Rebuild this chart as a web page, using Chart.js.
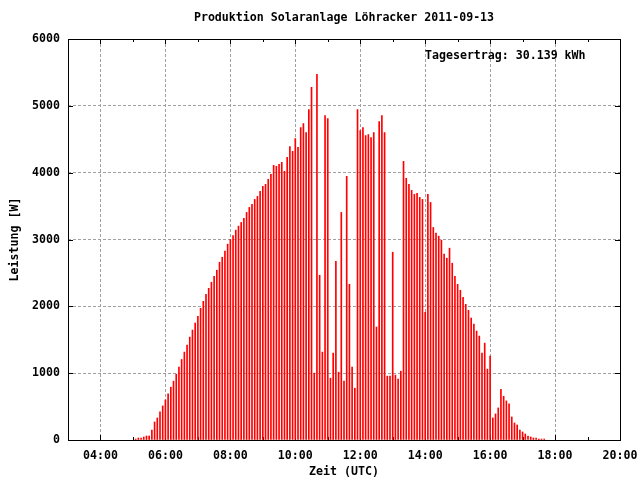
<!DOCTYPE html>
<html><head><meta charset="utf-8">
<script src="https://cdn.jsdelivr.net/npm/chart.js@4/dist/chart.umd.min.js"></script>
<style>html,body{margin:0;padding:0;background:#fff}#c{display:block}</style>
</head><body>
<canvas id="c" width="640" height="480"></canvas>
<script>
const chartTitle = 'Produktion Solaranlage Löhracker 2011-09-13';
const xAxisTitle = 'Zeit (UTC)';
const yAxisTitle = 'Leistung [W]';
const annotationText = 'Tagesertrag: 30.139 kWh';

const times = [
 '05:05','05:10','05:15','05:20','05:25','05:30','05:35','05:40','05:45','05:50','05:55',
 '06:00','06:05','06:10','06:15','06:20','06:25','06:30','06:35','06:40','06:45','06:50','06:55',
 '07:00','07:05','07:10','07:15','07:20','07:25','07:30','07:35','07:40','07:45','07:50','07:55',
 '08:00','08:05','08:10','08:15','08:20','08:25','08:30','08:35','08:40','08:45','08:50','08:55',
 '09:00','09:05','09:10','09:15','09:20','09:25','09:30','09:35','09:40','09:45','09:50','09:55',
 '10:00','10:05','10:10','10:15','10:20','10:25','10:30','10:35','10:40','10:45','10:50','10:55',
 '11:00','11:05','11:10','11:15','11:20','11:25','11:30','11:35','11:40','11:45','11:50','11:55',
 '12:00','12:05','12:10','12:15','12:20','12:25','12:30','12:35','12:40','12:45','12:50','12:55',
 '13:00','13:05','13:10','13:15','13:20','13:25','13:30','13:35','13:40','13:45','13:50','13:55',
 '14:00','14:05','14:10','14:15','14:20','14:25','14:30','14:35','14:40','14:45','14:50','14:55',
 '15:00','15:05','15:10','15:15','15:20','15:25','15:30','15:35','15:40','15:45','15:50','15:55',
 '16:00','16:05','16:10','16:15','16:20','16:25','16:30','16:35','16:40','16:45','16:50','16:55',
 '17:00','17:05','17:10','17:15','17:20','17:25','17:30','17:35','17:40'
];

const power = [
 15,30,30,45,60,60,150,270,330,420,510,
 600,690,790,880,985,1090,1205,1315,1420,1540,1645,1750,
 1850,1970,2075,2180,2270,2360,2450,2540,2660,2735,2825,2930,
 3000,3060,3140,3200,3255,3315,3405,3480,3525,3600,3645,3720,
 3795,3825,3900,3975,4110,4095,4125,4155,4020,4230,4390,4320,
 4510,4380,4675,4735,4600,4945,5275,1000,5470,2465,1315,4855,
 4810,925,1300,2675,1015,3405,880,3945,2330,1090,775,4945,
 4630,4675,4555,4570,4525,4600,1690,4765,4855,4600,955,955,
 2810,970,910,1030,4170,3915,3825,3735,3675,3690,3630,3600,
 1910,3675,3555,3180,3095,3050,2990,2780,2720,2870,2645,2450,
 2330,2240,2135,2030,1940,1825,1735,1630,1555,1300,1450,1060,
 1255,330,390,480,760,655,585,540,345,255,225,150,
 120,90,60,45,30,30,15,15,15
];

const xTickLabels = ['04:00','06:00','08:00','10:00','12:00','14:00','16:00','18:00','20:00'];
const xMinorTickLabels = ['03:00','05:00','07:00','09:00','11:00','13:00','15:00','17:00','19:00'];
const yTickValues = [0,1000,2000,3000,4000,5000,6000];
const xRange = ['03:00','20:00'];

function toHours(s){ const p = s.split(':'); return (+p[0]) + (+p[1])/60; }

const FONT = {family:'"DejaVu Sans Mono", monospace', size:11.6, weight:'bold', lineHeight:1.2};
const FONT_CSS = 'bold 11.6px "DejaVu Sans Mono", monospace';

const framePlugin = {
  id:'frame',
  beforeDatasetsDraw(chart){
    const {ctx, chartArea:a, scales:{x, y}} = chart;
    ctx.save();
    ctx.strokeStyle = '#000'; ctx.lineWidth = 1;
    ctx.beginPath();
    xTickLabels.forEach(l => {
      const px = Math.round(x.getPixelForValue(toHours(l))) + 0.5;
      ctx.moveTo(px, a.bottom); ctx.lineTo(px, a.bottom - 5);
      ctx.moveTo(px, a.top); ctx.lineTo(px, a.top + 5);
    });
    xMinorTickLabels.forEach(l => {
      const px = Math.round(x.getPixelForValue(toHours(l))) + 0.5;
      ctx.moveTo(px, a.bottom); ctx.lineTo(px, a.bottom - 3);
      ctx.moveTo(px, a.top); ctx.lineTo(px, a.top + 3);
    });
    yTickValues.forEach(v => {
      const py = Math.round(y.getPixelForValue(v)) + 0.5;
      ctx.moveTo(a.left, py); ctx.lineTo(a.left + 5, py);
      ctx.moveTo(a.right, py); ctx.lineTo(a.right - 5, py);
    });
    ctx.stroke();
    ctx.restore();
  },
  afterDatasetsDraw(chart){
    const {ctx, chartArea:a} = chart;
    ctx.save();
    ctx.strokeStyle = '#000'; ctx.lineWidth = 1;
    ctx.strokeRect(Math.round(a.left) + 0.5, Math.round(a.top) + 0.5,
                   Math.round(a.right - a.left), Math.round(a.bottom - a.top));
    ctx.fillStyle = '#000';
    ctx.font = FONT_CSS;
    ctx.textBaseline = 'middle';
    ctx.textAlign = 'center';
    ctx.fillText(chartTitle, (a.left + a.right) / 2, 18);
    ctx.textAlign = 'left';
    ctx.fillText(annotationText, 425, 56);
    ctx.restore();
  }
};

new Chart(document.getElementById('c'), {
  type:'bar',
  data:{
    datasets:[{
      data: times.map((t, i) => ({x: toHours(t), y: power[i]})),
      backgroundColor:'#ff0000',
      borderWidth:0,
      barThickness:1
    }]
  },
  options:{
    responsive:false,
    animation:false,
    layout:{padding:{top:39, right:20, left:0, bottom:0}},
    plugins:{legend:{display:false}, title:{display:false}, tooltip:{enabled:false}},
    scales:{
      x:{
        type:'linear',
        min: toHours(xRange[0]), max: toHours(xRange[1]),
        offset:false,
        afterBuildTicks: ax => { ax.ticks = xTickLabels.map(l => ({value: toHours(l)})); },
        ticks:{callback:(v, i) => xTickLabels[i], maxRotation:0, autoSkip:false, padding:9, font:FONT, color:'#000'},
        grid:{color:'#a0a0a0', drawTicks:false, lineWidth:1, offset:false},
        border:{display:false, dash:[3,2]},
        title:{display:true, text:xAxisTitle, font:FONT, color:'#000', padding:{top:0, bottom:1}},
        afterFit: s => { s.height = 40; s.paddingLeft = 0; s.paddingRight = 0; }
      },
      y:{
        min:0, max:6000,
        afterBuildTicks: ax => { ax.ticks = yTickValues.map(v => ({value: v})); },
        ticks:{callback: v => String(v), padding:8, font:FONT, color:'#000'},
        grid:{color:'#a0a0a0', drawTicks:false, lineWidth:1},
        border:{display:false, dash:[3,2]},
        title:{display:true, text:yAxisTitle, font:FONT, color:'#000', padding:{top:8, bottom:0}},
        afterFit: s => { s.width = 68; s.paddingTop = 0; s.paddingBottom = 0; }
      }
    }
  },
  plugins:[framePlugin]
});
</script>
</body></html>
